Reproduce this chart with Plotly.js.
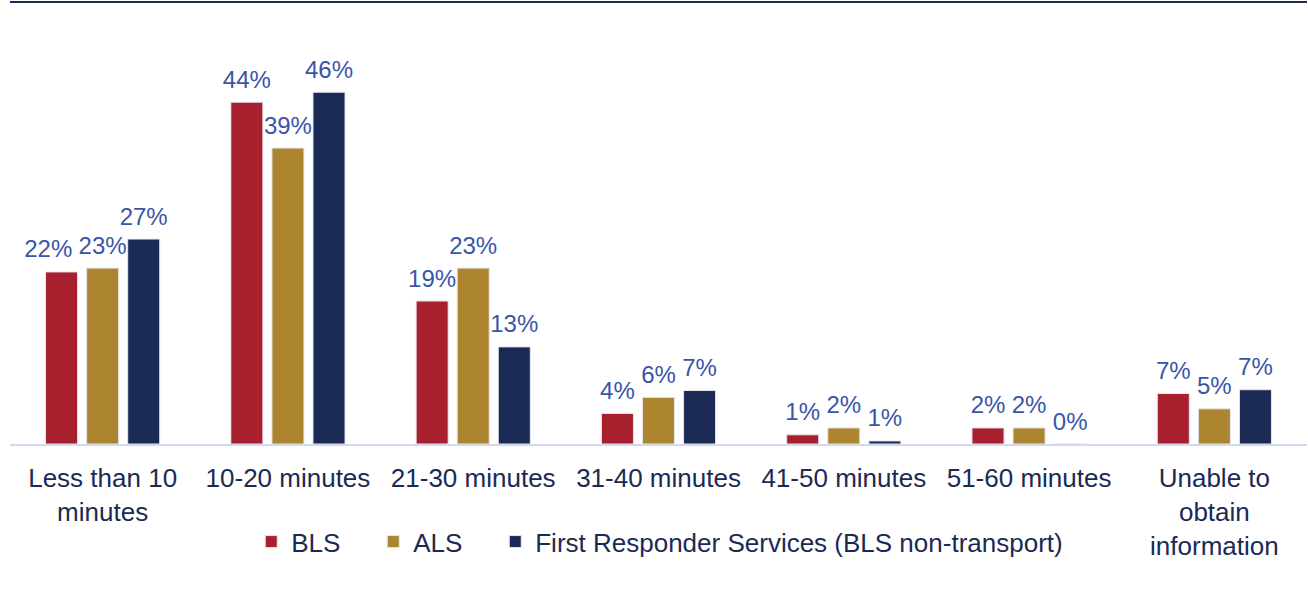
<!DOCTYPE html>
<html>
<head>
<meta charset="utf-8">
<script src="https://cdn.plot.ly/plotly-3.0.1.min.js"></script>
<style>
  html, body { margin: 0; padding: 0; background: #fff; }
  #chart { width: 1308px; height: 605px; }
</style>
</head>
<body>
<div id="chart"></div>
<script>
let categories = ['Less than 10<br>minutes', '10-20 minutes', '21-30 minutes', '31-40 minutes',
  '41-50 minutes', '51-60 minutes', 'Unable to<br>obtain<br>information'];

let blsValues = [22.5, 44.7, 18.7, 4.0, 1.2, 2.1, 6.6];
let alsValues = [23.0, 38.7, 23.0, 6.1, 2.1, 2.1, 4.6];
let frsValues = [26.8, 46.0, 12.7, 7.0, 0.4, 0, 7.1];

let blsLabels = ['22%', '44%', '19%', '4%', '1%', '2%', '7%'];
let alsLabels = ['23%', '39%', '23%', '6%', '2%', '2%', '5%'];
let frsLabels = ['27%', '46%', '13%', '7%', '1%', '0%', '7%'];

let seriesNames = ['BLS', 'ALS', 'First Responder Services (BLS non-transport)'];
let seriesColors = ['#a81f2e', '#ad852f', '#1b2a55'];

let labelFont = { family: 'Liberation Sans, Arial, sans-serif', size: 24, color: '#3a55a8' };

function bars(i, values, legendWidth) {
  return {
    x: categories,
    y: values,
    name: seriesNames[i],
    type: 'bar',
    hoverinfo: 'skip',
    legendwidth: legendWidth,
    marker: {
      color: seriesColors[i],
      line: { color: '#e6e6ee', width: 1 }
    }
  };
}

// value labels as grouped scatter text so they sit a bit higher above the bars
function labels(values, texts) {
  return {
    x: categories,
    y: values,
    text: texts,
    type: 'scatter',
    mode: 'markers+text',
    textposition: 'top center',
    textfont: labelFont,
    marker: { size: 12, opacity: 0 },
    cliponaxis: false,
    showlegend: false,
    hoverinfo: 'skip'
  };
}

// first BLS label is nudged left like in the original so it doesn't run into 23%
let blsShown = blsLabels.slice();
blsShown[0] = blsLabels[0] + '\u00a0\u00a0\u00a0\u00a0';

let data = [
  bars(0, blsValues, 77),
  bars(1, alsValues, 77),
  bars(2, frsValues),
  labels(blsValues, blsShown),
  labels(alsValues, alsLabels),
  labels(frsValues, frsLabels)
];

let layout = {
  width: 1308,
  height: 605,
  margin: { l: 10, r: 1, t: 2, b: 161 },
  paper_bgcolor: '#fff',
  plot_bgcolor: '#fff',
  barmode: 'group',
  bargap: 0.335,
  bargroupgap: 0.22,
  scattermode: 'group',
  scattergap: 0.335,
  font: { family: 'Liberation Sans, Arial, sans-serif', color: '#1b2a55' },
  showlegend: true,
  legend: {
    orientation: 'h',
    x: 0.186,
    xanchor: 'left',
    y: -0.221,
    yanchor: 'middle',
    font: { size: 26, color: '#1b2a55' },
    itemclick: false
  },
  xaxis: {
    showline: true,
    linecolor: '#d3daf0',
    linewidth: 2,
    ticks: '',
    ticklabelstandoff: 10,
    showgrid: false,
    tickfont: { size: 26, color: '#1b2a55' },
    fixedrange: true
  },
  yaxis: {
    range: [0, 57.8],
    visible: false,
    showgrid: false,
    zeroline: false,
    fixedrange: true
  },
  shapes: [
    { type: 'line', xref: 'paper', yref: 'paper', x0: 0, x1: 1, y0: 1, y1: 1,
      line: { color: '#1b2a55', width: 2 } }
  ]
};

Plotly.newPlot('chart', data, layout, { displayModeBar: false, staticPlot: true });
</script>
</body>
</html>
